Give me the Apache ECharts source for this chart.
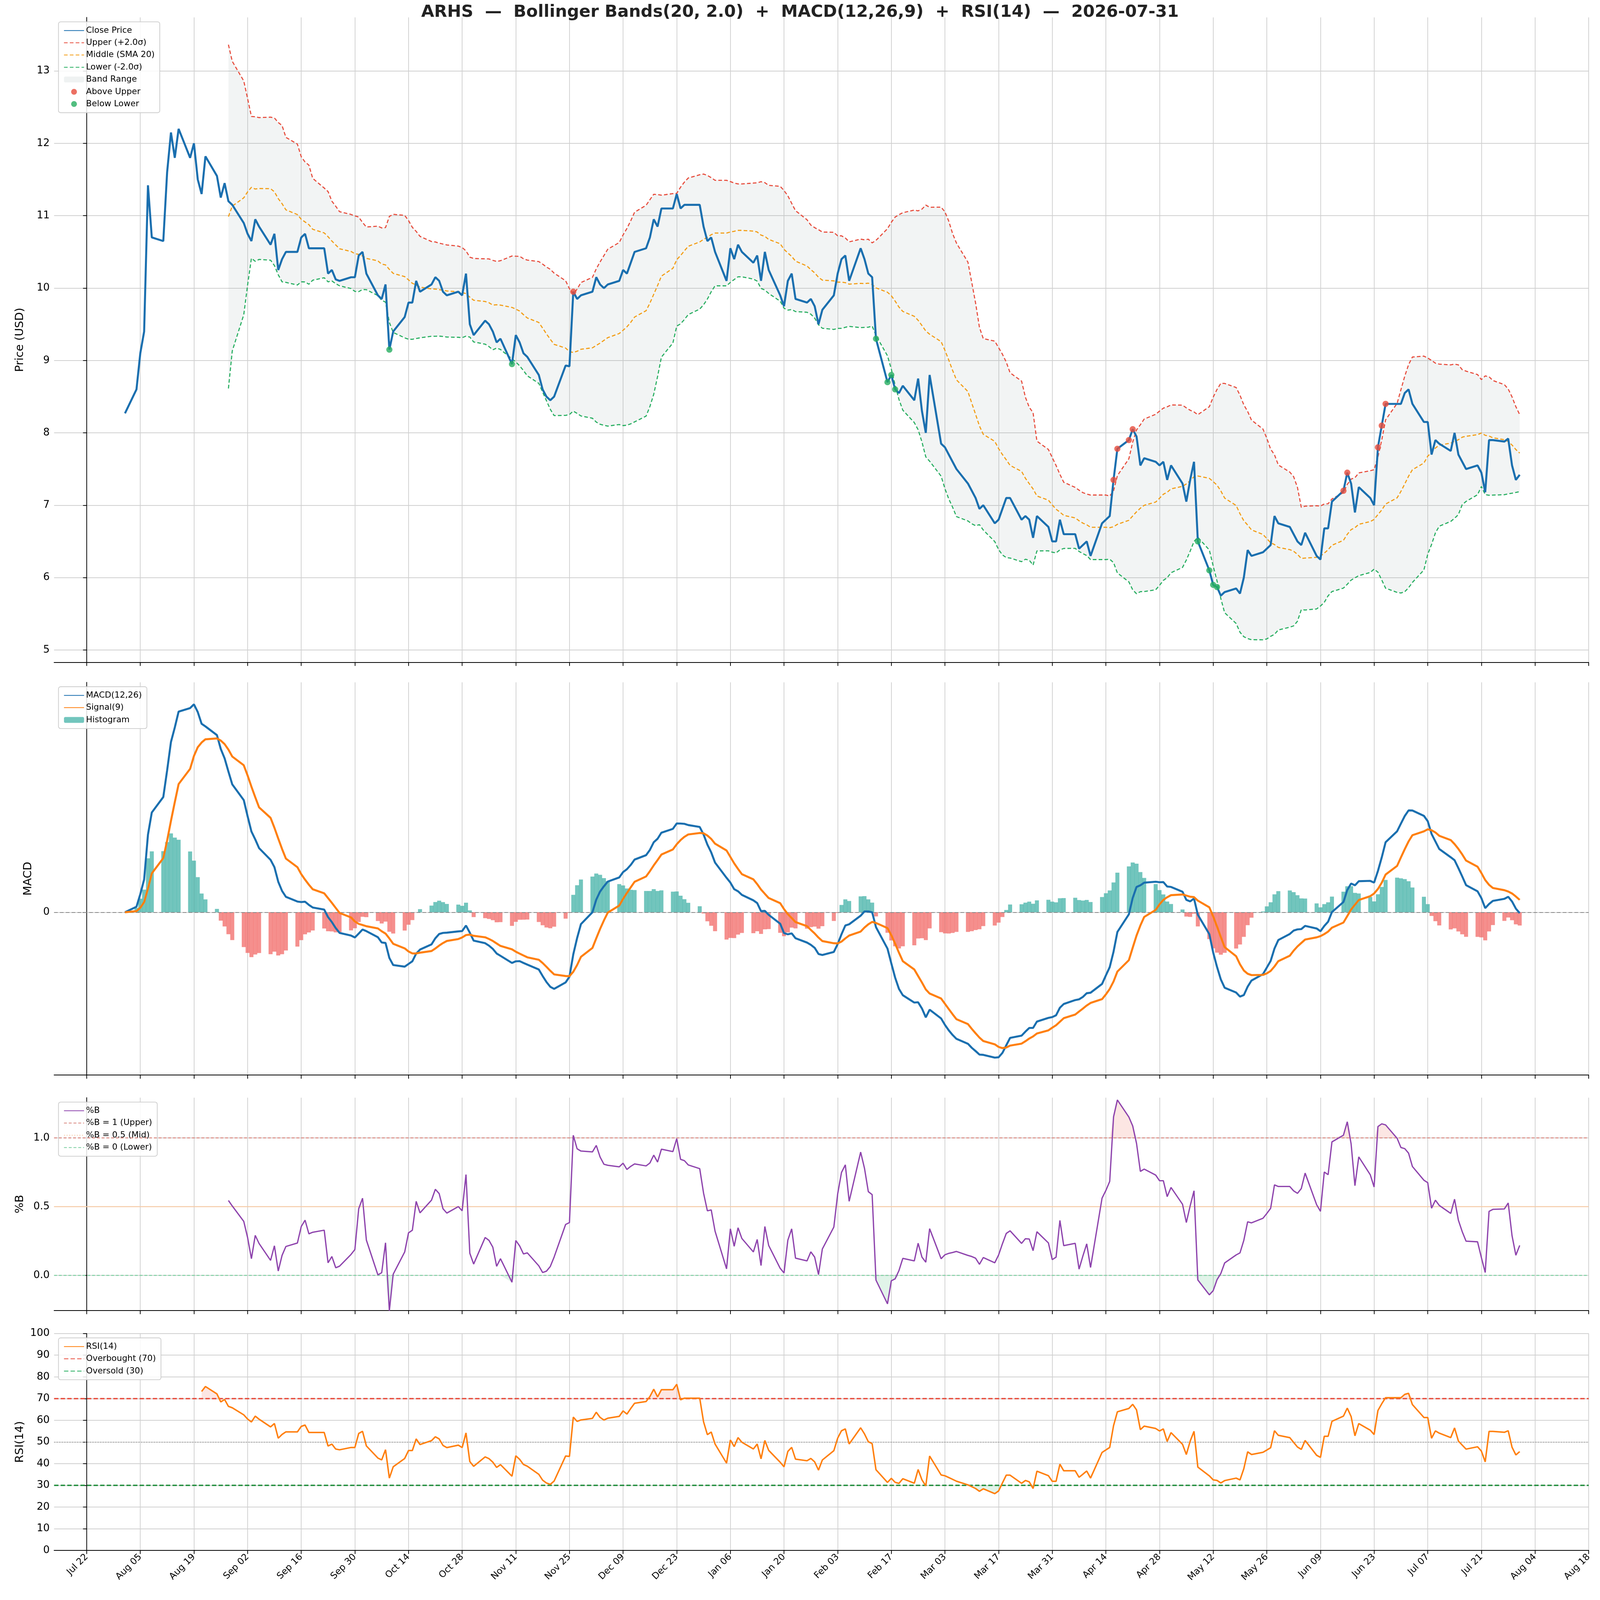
<!DOCTYPE html>
<html>
<head>
<meta charset="utf-8">
<script src="https://cdn.jsdelivr.net/npm/echarts@6/dist/echarts.min.js"></script>
<style>
  html, body { margin: 0; padding: 0; background: #fff; overflow: hidden; }
  #chart { width: 100vw; height: 100vh; }
</style>
</head>
<body>
<div id="chart"></div>
<script>
// closing prices, one per business day from Aug 1 2025 to Jul 31 2026
var closeAug = [8.27, 8.6, 9.1, 9.4, 11.42, 10.7, 10.65, 11.6, 12.15, 11.8, 12.2,
  11.8, 12.0, 11.5, 11.3, 11.82, 11.55, 11.25, 11.45, 11.2, 11.15];
var closeRest = [
  10.9, 10.75, 10.65, 10.95, 10.85, 10.6, 10.75, 10.25, 10.4, 10.5,
  10.5, 10.7, 10.75, 10.55, 10.55, 10.55, 10.2, 10.25, 10.12, 10.1,
  10.15, 10.15, 10.45, 10.5, 10.2, 9.9, 9.85, 10.05, 9.15, 9.4,
  9.6, 9.8, 9.8, 10.1, 9.95, 10.05, 10.15, 10.1, 9.95, 9.9,
  9.95, 9.9, 10.2, 9.5, 9.35, 9.55, 9.5, 9.4, 9.25, 9.3,
  8.95, 9.35, 9.25, 9.1, 9.05, 8.8, 8.6, 8.5, 8.45, 8.5,
  8.93, 8.92, 9.95, 9.85, 9.9, 9.95, 10.15, 10.05, 10.0, 10.05,
  10.1, 10.25, 10.2, 10.35, 10.5, 10.55, 10.7, 10.95, 10.85, 11.1,
  11.1, 11.3, 11.1, 11.15, 11.15, 11.15, 10.85, 10.65, 10.7, 10.5,
  10.1, 10.55, 10.4, 10.6, 10.5, 10.35, 10.45, 10.1, 10.5, 10.25,
  9.9, 9.75, 10.1, 10.2, 9.85, 9.8, 9.85, 9.75, 9.5, 9.7,
  9.9, 10.2, 10.4, 10.45, 10.1, 10.55, 10.4, 10.2, 10.15, 9.3,
  8.7, 8.8, 8.6, 8.55, 8.65, 8.45, 8.75, 8.3, 8.0, 8.8,
  7.85, 7.8, 7.7, 7.6, 7.5, 7.3, 7.2, 7.1, 6.95, 7.0,
  6.75, 6.8, 6.95, 7.1, 7.1, 6.8, 6.85, 6.8, 6.55, 6.85,
  6.7, 6.5, 6.5, 6.8, 6.6, 6.6, 6.4, 6.45, 6.5, 6.3,
  6.75, 6.8, 6.85, 7.35, 7.78, 7.9, 8.05, 7.95, 7.55, 7.65,
  7.6, 7.55, 7.6, 7.35, 7.55, 7.3, 7.05, 7.35, 7.6, 6.5,
  6.1, 5.9, 5.87, 5.75, 5.8, 5.85, 5.78, 6.0, 6.38, 6.3,
  6.35, 6.4, 6.45, 6.85, 6.75, 6.7, 6.6, 6.5, 6.45, 6.62,
  6.3, 6.25, 6.68, 6.68, 7.05, 7.2, 7.45, 7.3, 6.9, 7.25,
  7.1, 7.0, 7.8, 8.1, 8.4, 8.4, 8.4, 8.55, 8.6, 8.4,
  8.15, 8.15, 7.7, 7.9, 7.85, 7.75, 8.0, 7.7, 7.6, 7.5,
  7.55, 7.45, 7.18, 7.9, 7.9, 7.88, 7.92, 7.55, 7.35, 7.42
];
var closes = closeAug.concat(closeRest);
var xTicks = [];
for (var t = 0; t <= 392; t += 14) xTicks.push(t);
var priceTicks = [5, 6, 7, 8, 9, 10, 11, 12, 13];
var pbTicks = [0, 0.5, 1.0];
var rsiTicks = [0, 10, 20, 30, 40, 50, 60, 70, 80, 90, 100];

// x = days since Jul 22 2025
var DAY = 86400000, ORIGIN = Date.UTC(2025, 6, 22);
var xs = [];
var d = Date.UTC(2025, 7, 1);
while (xs.length < closes.length) {
  var wd = new Date(d).getUTCDay();
  if (wd !== 0 && wd !== 6) xs.push((d - ORIGIN) / DAY);
  d += DAY;
}
var MON = ['Jan','Feb','Mar','Apr','May','Jun','Jul','Aug','Sep','Oct','Nov','Dec'];
function fmtX(v) {
  var dt = new Date(ORIGIN + v * DAY);
  var dd = dt.getUTCDate();
  return MON[dt.getUTCMonth()] + ' ' + (dd < 10 ? '0' + dd : dd);
}

// indicators
var n = closes.length, N = 20;
var mid = [], up = [], lo = [], pb = [];
for (var i = 0; i < n; i++) {
  if (i < N - 1) { mid.push(null); up.push(null); lo.push(null); pb.push(null); continue; }
  var w = closes.slice(i - N + 1, i + 1);
  var m = w.reduce(function (a, b) { return a + b; }, 0) / N;
  var sd = Math.sqrt(w.reduce(function (a, b) { return a + (b - m) * (b - m); }, 0) / (N - 1));
  mid.push(m); up.push(m + 2 * sd); lo.push(m - 2 * sd);
  pb.push((closes[i] - (m - 2 * sd)) / (4 * sd));
}
function ema(arr, p) {
  var k = 2 / (p + 1), out = [arr[0]];
  for (var i = 1; i < arr.length; i++) out.push(arr[i] * k + out[i - 1] * (1 - k));
  return out;
}
var e12 = ema(closes, 12), e26 = ema(closes, 26);
var macd = closes.map(function (c, i) { return e12[i] - e26[i]; });
var sig = ema(macd, 9);
var hist = macd.map(function (v, i) { return v - sig[i]; });
// Wilder-style RSI
var rsi = [null], ag = 0, al = 0;
for (var i = 1; i < n; i++) {
  var df = closes[i] - closes[i - 1];
  var g = df > 0 ? df : 0, l = df < 0 ? -df : 0;
  if (i === 1) { ag = g; al = l; } else { ag = ag + (g - ag) / 14; al = al + (l - al) / 14; }
  rsi.push(i < 14 ? null : (al === 0 ? 100 : 100 - 100 / (1 + ag / al)));
}
function pairs(arr) {
  var out = [];
  arr.forEach(function (v, i) { if (v !== null) out.push([xs[i], v]); });
  return out;
}
var above = [], below = [];
closes.forEach(function (c, i) {
  if (up[i] !== null && c > up[i]) above.push([xs[i], c]);
  if (lo[i] !== null && c < lo[i]) below.push([xs[i], c]);
});
var bandRows = [];
for (var i = N - 1; i < n; i++) bandRows.push([xs[i], lo[i], up[i]]);

var mMax = Math.max.apply(null, macd), mMin = Math.min.apply(null, macd);

var K = window.innerWidth / 4378;
var KH = window.innerHeight / 4322;
function px(v) { return v * K; }
function py(v) { return v * KH; }
var grids = [
  { left: px(148), right: px(31), top: py(47), height: py(1742) },
  { left: px(148), right: px(31), top: py(1843), height: py(1061) },
  { left: px(148), right: px(31), top: py(2965), height: py(575) },
  { left: px(148), right: px(31), top: py(3602), height: py(586) }
];
var FONT = 'DejaVu Sans';
function xAx(idx) {
  return {
    type: 'value', gridIndex: idx, min: -8.5, max: 392,
    axisLine: { onZero: false, lineStyle: { color: '#000', width: px(2) } },
    axisTick: { customValues: xTicks, length: px(10), lineStyle: { color: '#000', width: px(2) } },
    axisLabel: { show: idx === 3, customValues: xTicks, formatter: fmtX, rotate: 45,
      fontSize: px(25), color: '#000', fontFamily: FONT, margin: px(14) },
    splitLine: { show: true, lineStyle: { color: '#d0d0d0', width: px(2) } }
  };
}
function yAx(idx, name, min, max, ticks, fmt) {
  return {
    type: 'value', gridIndex: idx, min: min, max: max, name: name,
    nameLocation: 'middle', nameGap: px(idx === 1 ? 55 : 78),
    nameTextStyle: { fontSize: px(31), color: '#000', fontFamily: FONT },
    axisLine: { show: true, lineStyle: { color: '#000', width: px(2) } },
    axisTick: { show: true, customValues: ticks, length: px(10), lineStyle: { color: '#000', width: px(2) } },
    axisLabel: { customValues: ticks, fontSize: px(28), color: '#000', fontFamily: FONT, formatter: fmt, margin: px(12) },
    splitLine: { show: true, lineStyle: { color: '#d0d0d0', width: px(2) } }
  };
}
function line(name, data, color, opts) {
  var o = { name: name, type: 'line', data: data, symbol: 'none', showSymbol: false,
    lineStyle: { color: color, width: px(5) }, itemStyle: { color: color }, z: 5 };
  for (var k in opts) o[k] = opts[k];
  return o;
}
var LINE_ITEMS = ['Close Price', 'Upper (+2.0σ)', 'Middle (SMA 20)', 'Lower (-2.0σ)', 'MACD(12,26)', 'Signal(9)',
  '%B', '%B = 1 (Upper)', '%B = 0.5 (Mid)', '%B = 0 (Lower)', 'RSI(14)', 'Overbought (70)', 'Oversold (30)'];
function legend(idx, items) {
  return {
    orient: 'vertical', left: grids[idx].left + px(12), top: grids[idx].top + py(12),
    data: items.map(function (nm) {
      return LINE_ITEMS.indexOf(nm) >= 0 ? { name: nm, itemStyle: { opacity: 0 } } : { name: nm };
    }),
    itemGap: px(10), itemWidth: px(55), itemHeight: px(16),
    textStyle: { fontSize: px(23), fontFamily: FONT, color: '#000' },
    backgroundColor: 'rgba(255,255,255,0.85)', borderColor: '#ccc', borderWidth: px(2),
    borderRadius: px(6), padding: [px(12), px(14)]
  };
}
function clipAbove(arr, lvl) { return pairs(arr.map(function (v) { return v === null ? null : Math.max(v, lvl); })); }
function clipBelow(arr, lvl) { return pairs(arr.map(function (v) { return v === null ? null : Math.min(v, lvl); })); }
function ml(y, color, width, type) {
  return { silent: true, symbol: 'none', label: { show: false }, animation: false,
    lineStyle: { color: color, width: px(width), type: type }, data: [{ yAxis: y }] };
}
function dash(a, b) { return [px(a), px(b)]; }

var chart = echarts.init(document.getElementById('chart'));
chart.setOption({
  animation: false,
  backgroundColor: '#fff',
  title: { text: 'ARHS  —  Bollinger Bands(20, 2.0)  +  MACD(12,26,9)  +  RSI(14)  —  2026-07-31',
    left: 'center', top: py(6), textStyle: { fontSize: px(46), fontWeight: 'bold', fontFamily: FONT, color: '#222' } },
  grid: grids,
  xAxis: [xAx(0), xAx(1), xAx(2), xAx(3)],
  yAxis: [
    yAx(0, 'Price (USD)', 4.83, 13.74, priceTicks),
    yAx(1, 'MACD', mMin * 1.12, mMax * 1.106, [0]),
    yAx(2, '%B', -0.256, 1.293, pbTicks, function (v) { return v.toFixed(1); }),
    yAx(3, 'RSI(14)', 0, 100, rsiTicks)
  ],
  legend: [
    legend(0, ['Close Price', 'Upper (+2.0σ)', 'Middle (SMA 20)', 'Lower (-2.0σ)', 'Band Range', 'Above Upper', 'Below Lower']),
    legend(1, ['MACD(12,26)', 'Signal(9)', 'Histogram']),
    legend(2, ['%B', '%B = 1 (Upper)', '%B = 0.5 (Mid)', '%B = 0 (Lower)']),
    legend(3, ['RSI(14)', 'Overbought (70)', 'Oversold (30)'])
  ],
  series: [
    { name: 'Band Range', type: 'custom', xAxisIndex: 0, yAxisIndex: 0, data: bandRows, silent: true,
      itemStyle: { color: 'rgba(149,165,166,0.15)' }, z: 1,
      renderItem: function (params, api) {
        if (params.dataIndex !== 0) return null;
        var pts = [];
        bandRows.forEach(function (r) { pts.push(api.coord([r[0], r[2]])); });
        for (var j = bandRows.length - 1; j >= 0; j--) pts.push(api.coord([bandRows[j][0], bandRows[j][1]]));
        return { type: 'polygon', shape: { points: pts }, style: { fill: 'rgba(149,165,166,0.12)' } };
      } },
    line('Upper (+2.0σ)', pairs(up), '#e74c3c', { lineStyle: { color: '#e74c3c', width: px(3), type: dash(10, 6) } }),
    line('Middle (SMA 20)', pairs(mid), '#f39c12', { lineStyle: { color: '#f39c12', width: px(3), type: dash(10, 6) } }),
    line('Lower (-2.0σ)', pairs(lo), '#27ae60', { lineStyle: { color: '#27ae60', width: px(3), type: dash(10, 6) } }),
    line('Close Price', pairs(closes), '#1a6faf', { lineStyle: { color: '#1a6faf', width: px(5.5) } }),
    { name: 'Above Upper', type: 'scatter', data: above, symbolSize: px(17), itemStyle: { color: '#e74c3c' }, z: 6 },
    { name: 'Below Lower', type: 'scatter', data: below, symbolSize: px(17), itemStyle: { color: '#27ae60' }, z: 6 },

    { name: 'Histogram', type: 'bar', xAxisIndex: 1, yAxisIndex: 1, barWidth: px(11),
      itemStyle: { color: 'rgba(38,166,154,0.65)' },
      data: pairs(hist).map(function (p) {
        return { value: p, itemStyle: { color: p[1] >= 0 ? 'rgba(38,166,154,0.65)' : 'rgba(239,83,80,0.65)' } };
      }) },
    line('MACD(12,26)', pairs(macd), '#1a6faf', { xAxisIndex: 1, yAxisIndex: 1, lineStyle: { color: '#1a6faf', width: px(5.5) },
      markLine: ml(0, '#888', 2, dash(10, 6)) }),
    line('Signal(9)', pairs(sig), '#ff7f0e', { xAxisIndex: 1, yAxisIndex: 1, lineStyle: { color: '#ff7f0e', width: px(5.5) } }),

    { name: 'pbHi', type: 'line', xAxisIndex: 2, yAxisIndex: 2, data: clipAbove(pb, 1), symbol: 'none',
      lineStyle: { width: 0 }, areaStyle: { origin: 1, color: 'rgba(231,76,60,0.2)' }, silent: true },
    { name: 'pbLo', type: 'line', xAxisIndex: 2, yAxisIndex: 2, data: clipBelow(pb, 0), symbol: 'none',
      lineStyle: { width: 0 }, areaStyle: { origin: 0, color: 'rgba(39,174,96,0.2)' }, silent: true },
    line('%B = 1 (Upper)', [], '#d98880', { xAxisIndex: 2, yAxisIndex: 2, lineStyle: { color: '#d98880', width: px(2.5), type: dash(8, 5) },
      markLine: ml(1, '#d98880', 2.5, dash(8, 5)) }),
    line('%B = 0.5 (Mid)', [], '#f5cba7', { xAxisIndex: 2, yAxisIndex: 2, lineStyle: { color: '#f5cba7', width: px(2.5), type: dash(3, 4) },
      markLine: ml(0.5, '#f5cba7', 2.5, 'solid') }),
    line('%B = 0 (Lower)', [], '#7dcea0', { xAxisIndex: 2, yAxisIndex: 2, lineStyle: { color: '#7dcea0', width: px(2.5), type: dash(8, 5) },
      markLine: ml(0, '#7dcea0', 2.5, dash(8, 5)) }),
    line('%B', pairs(pb), '#8e44ad', { xAxisIndex: 2, yAxisIndex: 2, lineStyle: { color: '#8e44ad', width: px(3.5) } }),

    { name: 'rsiHi', type: 'line', xAxisIndex: 3, yAxisIndex: 3, data: clipAbove(rsi, 70), symbol: 'none',
      lineStyle: { width: 0 }, areaStyle: { origin: 70, color: 'rgba(231,76,60,0.2)' }, silent: true },
    { name: 'rsiLo', type: 'line', xAxisIndex: 3, yAxisIndex: 3, data: clipBelow(rsi, 30), symbol: 'none',
      lineStyle: { width: 0 }, areaStyle: { origin: 30, color: 'rgba(39,174,96,0.2)' }, silent: true },
    line('Overbought (70)', [], '#e74c3c', { xAxisIndex: 3, yAxisIndex: 3, lineStyle: { color: '#e74c3c', width: px(3.5), type: dash(12, 6) },
      markLine: ml(70, '#e74c3c', 3.5, dash(12, 6)) }),
    line('Oversold (30)', [], '#27ae60', { xAxisIndex: 3, yAxisIndex: 3, lineStyle: { color: '#27ae60', width: px(3.5), type: dash(12, 6) },
      markLine: ml(30, '#1e8c3a', 3.5, dash(12, 6)) }),
    line('RSI(14)', pairs(rsi), '#ff7f0e', { xAxisIndex: 3, yAxisIndex: 3, lineStyle: { color: '#ff7f0e', width: px(4) },
      markLine: ml(50, '#999', 2, dash(3, 4)) })
  ]
});
</script>
</body>
</html>
